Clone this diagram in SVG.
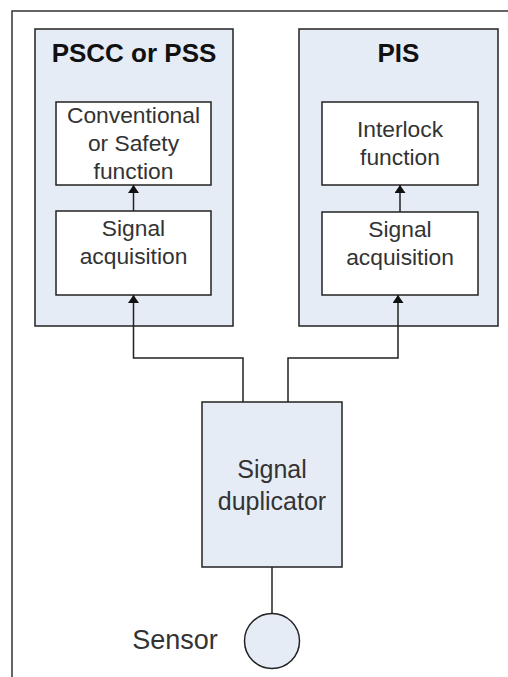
<svg xmlns="http://www.w3.org/2000/svg" width="508" height="677" viewBox="0 0 508 677">
  <style>
    .frame { fill: none; stroke: #333; stroke-width: 1.5; }
    .group { fill: #e6ecf6; stroke: #222; stroke-width: 1.5; }
    .block { fill: #ffffff; stroke: #222; stroke-width: 1.5; }
    .dup { fill: #e6ecf6; stroke: #222; stroke-width: 1.5; }
    .wire { fill: none; stroke: #222; stroke-width: 1.5; }
    .title { font-family: "Liberation Sans", Arial, sans-serif; font-weight: bold; font-size: 26px; fill: #111; text-anchor: middle; }
    .label { font-family: "Liberation Sans", Arial, sans-serif; font-size: 22.8px; fill: #333; text-anchor: middle; }
    .big { font-family: "Liberation Sans", Arial, sans-serif; font-size: 25px; fill: #333; text-anchor: middle; }
  </style>
  <defs>
    <marker id="arrow" viewBox="0 0 8 11" refX="8" refY="5.5" markerWidth="8" markerHeight="11" markerUnits="userSpaceOnUse" orient="auto">
      <path d="M0,0 L8,5.5 L0,11 Z" fill="#111"/>
    </marker>
  </defs>

  <rect width="508" height="677" fill="#ffffff"/>
  <!-- open page frame: top and left edges -->
  <path class="frame" d="M12,677 V11 H508"/>

  <g id="pscc">
    <rect class="group" x="35" y="29" width="198" height="297"/>
    <text class="title" x="134" y="62">PSCC or PSS</text>
  </g>
  <g id="pscc-function">
    <rect class="block" x="56" y="102" width="155" height="83"/>
    <text class="label" x="133.5" y="123">Conventional</text>
    <text class="label" x="133.5" y="151">or Safety</text>
    <text class="label" x="133.5" y="179">function</text>
  </g>
  <g id="pscc-acquisition">
    <rect class="block" x="56" y="211" width="155" height="84"/>
    <text class="label" x="133.5" y="236">Signal</text>
    <text class="label" x="133.5" y="264">acquisition</text>
  </g>

  <g id="pis">
    <rect class="group" x="299" y="29" width="199" height="297"/>
    <text class="title" x="398.5" y="62">PIS</text>
  </g>
  <g id="pis-function">
    <rect class="block" x="322" y="102" width="156" height="83"/>
    <text class="label" x="400" y="137">Interlock</text>
    <text class="label" x="400" y="165">function</text>
  </g>
  <g id="pis-acquisition">
    <rect class="block" x="322" y="212" width="156" height="83"/>
    <text class="label" x="400" y="237">Signal</text>
    <text class="label" x="400" y="265">acquisition</text>
  </g>

  <g id="duplicator">
    <rect class="dup" x="202" y="402" width="140" height="165"/>
    <text class="big" x="272" y="478">Signal</text>
    <text class="big" x="272" y="510">duplicator</text>
  </g>

  <g id="sensor">
    <circle class="dup" cx="272" cy="641" r="27.5"/>
    <text class="big" x="175" y="649" style="font-size:27px">Sensor</text>
  </g>

  <g id="connectors">
    <path class="wire" d="M133.5,211 V185" marker-end="url(#arrow)"/>
    <path class="wire" d="M400,212 V185" marker-end="url(#arrow)"/>
    <path class="wire" d="M243,402 V358 H133.5 V295" marker-end="url(#arrow)"/>
    <path class="wire" d="M288,402 V358 H398 V295" marker-end="url(#arrow)"/>
    <path class="wire" d="M272,567 V613.5"/>
  </g>
</svg>
